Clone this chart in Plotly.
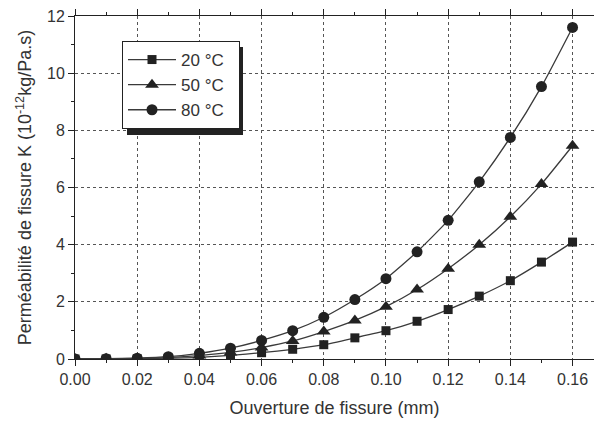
import plotly.graph_objects as go

x_vals = [0.00, 0.01, 0.02, 0.03, 0.04, 0.05, 0.06, 0.07, 0.08, 0.09, 0.10, 0.11, 0.12, 0.13, 0.14, 0.15, 0.16]
k_20 = [0.0, 0.002, 0.01, 0.03, 0.06, 0.13, 0.22, 0.34, 0.50, 0.74, 0.99, 1.32, 1.73, 2.20, 2.74, 3.39, 4.09]
k_50 = [0.0, 0.005, 0.02, 0.05, 0.12, 0.23, 0.40, 0.63, 0.96, 1.35, 1.83, 2.43, 3.16, 4.00, 4.98, 6.12, 7.46]
k_80 = [0.0, 0.01, 0.03, 0.08, 0.20, 0.38, 0.65, 0.99, 1.46, 2.08, 2.81, 3.75, 4.85, 6.20, 7.75, 9.53, 11.60]
series_names = ["20 °C", "50 °C", "80 °C"]
symbols = ["square", "triangle-up", "circle"]
marker_sizes = [9, 12, 11]
x_tick_vals = [0, 0.02, 0.04, 0.06, 0.08, 0.10, 0.12, 0.14, 0.16]
x_tick_text = ["0.00", "0.02", "0.04", "0.06", "0.08", "0.10", "0.12", "0.14", "0.16"]

fig = go.Figure()
for name, ys, sym, ms in zip(series_names, [k_20, k_50, k_80], symbols, marker_sizes):
    fig.add_trace(go.Scatter(
        x=x_vals, y=ys, name=name + "\u00a0\u00a0", mode="lines+markers",
        line=dict(color="#3a3a3a", width=1.3, shape="spline", smoothing=0.5),
        marker=dict(symbol=sym, size=ms, color="#222222"),
    ))

W, H = 594, 422
ml, mr, mt, mb = 75, 0, 16, 63
pw, ph = W - ml - mr, H - mt - mb

def px_to_paper(px, py):
    return (px - ml) / pw, (H - mb - py) / ph

sx0, sy0 = px_to_paper(127, 135)
sx1, sy1 = px_to_paper(243, 47)
lx, ly = px_to_paper(122, 41)

FONT = "Liberation Sans, Arial, sans-serif"
axis_common = dict(
    showline=True, linecolor="#222", linewidth=1, mirror="ticks",
    ticks="outside", ticklen=6, tickcolor="#222",
    showgrid=True, gridcolor="#555", griddash="dot", gridwidth=1,
    zeroline=False, automargin=False,
    tickfont=dict(family=FONT, size=16, color="#333"),
)

fig.update_layout(
    width=W, height=H,
    margin=dict(l=ml, r=mr, t=mt, b=mb),
    plot_bgcolor="white", paper_bgcolor="white",
    font=dict(family=FONT, color="#333"),
    xaxis=dict(
        range=[0, 0.1669], tickvals=x_tick_vals, ticktext=x_tick_text,
        minor=dict(dtick=0.01, tick0=0, ticks="outside", ticklen=3, tickcolor="#222", showgrid=False),
        title=dict(text="Ouverture de fissure (mm)", font=dict(size=18, color="#333"), standoff=14),
        **axis_common,
    ),
    yaxis=dict(
        range=[0, 12], dtick=2,
        minor=dict(dtick=1, ticks="outside", ticklen=3, tickcolor="#222", showgrid=False),
        title=dict(text="Perméabilité de fissure K (10<sup>-12</sup>kg/Pa.s)", font=dict(size=18, color="#333"), standoff=10),
        **axis_common,
    ),
    legend=dict(
        x=lx, y=ly, xanchor="left", yanchor="top",
        bgcolor="white", bordercolor="#222", borderwidth=1,
        font=dict(size=17, color="#333"), itemwidth=48,
        tracegroupgap=0,
    ),
    shapes=[dict(type="rect", xref="paper", yref="paper", x0=sx0, y0=sy0, x1=sx1, y1=sy1,
                 fillcolor="#222", line=dict(width=0), layer="above")],
)

fig.write_html("out.html", config={"displayModeBar": False},
               post_script="document.body.style.margin='0';document.body.style.overflow='hidden';")
